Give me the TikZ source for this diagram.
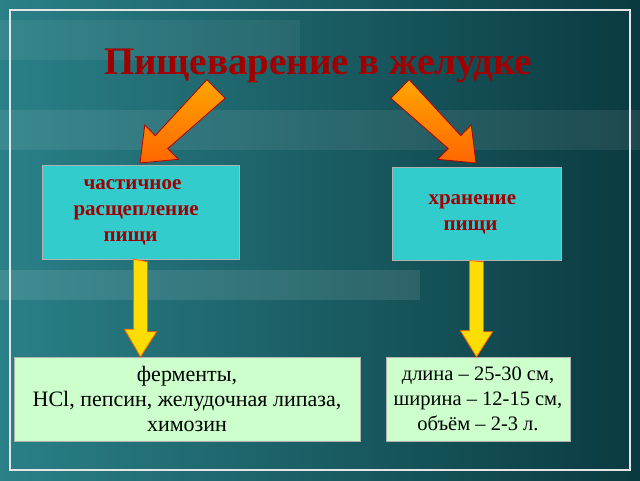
\documentclass[tikz,border=0pt]{standalone}
\usepackage{fontspec}
\setmainfont{Liberation Serif}
\usetikzlibrary{positioning}
\definecolor{bgdark}{HTML}{0A3A40}
\definecolor{bglight}{HTML}{2A8087}
\definecolor{boxcyan}{HTML}{33CCCC}
\definecolor{boxgreen}{HTML}{CCFFCC}
\definecolor{titlered}{HTML}{A00000}
\tikzset{cbox/.style={draw=gray!60, fill=boxcyan, text=titlered, font=\fontsize{21}{26}\selectfont\bfseries, align=left},
         gbox/.style={draw=gray!60, fill=boxgreen, text=black, font=\fontsize{22}{25}\selectfont, align=center, inner sep=1pt},
         oarrow/.style={draw=red!70!black, top color=orange!70!yellow, bottom color=orange!80!red, line width=0.8pt},
         yarrow/.style={draw=orange!80!red, fill=yellow!80!orange, line width=0.8pt}}
\begin{document}
\begin{tikzpicture}[x=1pt,y=-1pt]
  % background
  \shade[left color=bglight, right color=bgdark] (0,0) rectangle (640,480);
  \fill[white, opacity=0.08] (0,110) rectangle (640,150);
  \fill[white, opacity=0.10] (0,270) rectangle (420,300);
  \fill[white, opacity=0.06] (0,20) rectangle (300,60);
  \draw[white!80!gray, line width=1.5pt] (10,10) rectangle (630,470);

  \node[text=titlered, font=\fontsize{39}{42}\selectfont\bfseries] (title) at (318,66) {Пищеварение в желудке};

  \node[cbox, minimum width=195pt, minimum height=94pt, text width=190pt] (split) at (140.5,212) {\hspace*{38pt}частичное\\\hspace*{28pt}расщепление\\\hspace*{58pt}пищи};
  \node[cbox, minimum width=169pt, minimum height=93pt, text width=160pt] (store) at (476.5,214) {\hspace*{32pt}хранение\\\hspace*{47pt}пищи};
  \node[gbox, minimum width=346pt, minimum height=84pt] (enz) at (187,399) {ферменты,\\HCl, пепсин, желудочная липаза,\\химозин};
  \node[gbox, minimum width=184pt, minimum height=84pt, font=\fontsize{20.5}{25}\selectfont] (size) at (478,399) {длина – 25-30 см,\\ширина – 12-15 см,\\объём – 2-3 л.};

  % orange arrows
  \draw[oarrow] (206.9,79.7) -- (155.2,135.7) -- (144.8,124.9) -- (140,163) -- (178.3,159.3) -- (167.8,148.5) -- (225.1,98.3) -- cycle;
  \begin{scope}[xshift=616pt, xscale=-1]
    \draw[oarrow] (206.9,79.7) -- (155.2,135.7) -- (144.8,124.9) -- (140,163) -- (178.3,159.3) -- (167.8,148.5) -- (225.1,98.3) -- cycle;
  \end{scope}

  % yellow arrows
  \draw[yarrow] ([xshift=-7pt]split.south) -- ++(0,70) -- ++(-9,0) -- (split.south |- enz.north) -- ++(16,-25) -- ++(-9,0) -- ++(0,-70) -- cycle;
  \draw[yarrow] ([xshift=-7pt]store.south) -- ++(0,70) -- ++(-9,0) -- (store.south |- size.north) -- ++(16,-25) -- ++(-9,0) -- ++(0,-70) -- cycle;
\end{tikzpicture}
\end{document}
